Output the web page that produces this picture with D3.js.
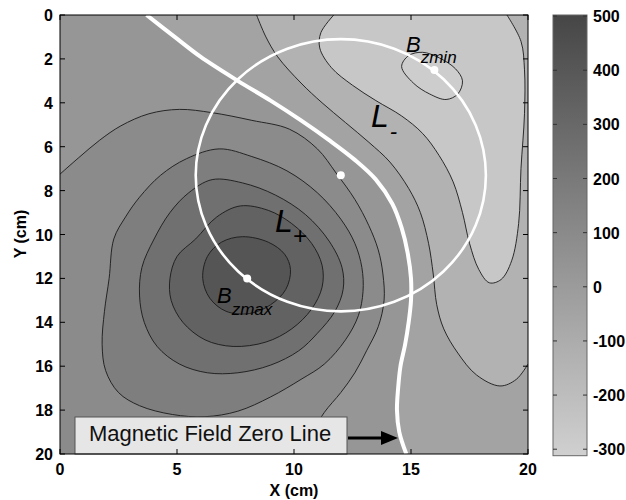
<!DOCTYPE html>
<html>
<head>
<meta charset="utf-8">
<script src="https://cdn.jsdelivr.net/npm/d3@7"></script>
<style>
  body { margin: 0; background: #fff; }
  text { font-family: "Liberation Sans", Arial, sans-serif; }
</style>
</head>
<body>
<div id="chart"></div>
<script>
// ---- data (cm) ----
const xTicks = [0, 5, 10, 15, 20];
const yTicks = [0, 2, 4, 6, 8, 10, 12, 14, 16, 18, 20];
const cbTicks = [-300, -200, -100, 0, 100, 200, 300, 400, 500];
const cbDomain = [-312, 502];

// contour lines, one array per level (x, y in cm)
const zeroLine = [[3.7,0],[4.9,1.0],[6.0,1.9],[7.6,3.0],[9.0,3.9],[10.3,4.8],[11.5,5.7],[12.6,6.6],[13.5,7.5],[14.2,8.6],[14.6,9.7],[14.85,10.8],[15.0,12.0],[15.0,13.0],[14.9,14.0],[14.75,15.0],[14.55,16.0],[14.45,17.0],[14.4,18.0],[14.5,19.0],[14.8,20]];
const c100 = [[0,7.25],[0.8,6.5],[1.7,5.7],[2.6,5.05],[3.8,4.5],[5.1,4.3],[6.5,4.45],[8.2,4.8],[9.8,5.2],[11.0,6.1],[11.8,7.2],[12.6,8.4],[13.2,9.6],[13.6,10.7],[13.8,11.8],[13.85,13.0],[13.6,14.2],[13.1,15.3],[12.6,16.3],[12.0,17.2],[11.3,18.1],[10.8,19.0],[10.5,20]];
const c200 = [[6.8,6.1],[8.2,6.45],[9.7,7.1],[11.0,8.1],[12.0,9.3],[12.6,10.4],[12.9,11.5],[12.95,12.6],[12.75,13.7],[12.2,14.8],[11.3,15.9],[10.3,16.6],[9.0,17.4],[7.6,18.05],[6.2,18.3],[4.8,18.2],[3.4,17.8],[2.5,17.2],[1.95,16.2],[1.8,15.0],[1.9,13.5],[2.1,12.0],[2.3,10.2],[2.8,9.2],[3.4,8.3],[4.3,7.3],[5.4,6.55]];
const c300 = [[6.5,7.5],[7.8,7.65],[9.2,8.2],[10.5,9.1],[11.5,10.3],[12.05,11.5],[12.1,12.5],[11.75,13.5],[11.0,14.5],[10.2,15.3],[9.0,15.95],[7.6,16.3],[6.3,16.3],[5.1,15.9],[4.15,15.1],[3.6,14.0],[3.4,12.8],[3.5,11.5],[4.0,10.25],[4.7,9.0],[5.5,8.1]];
const c400 = [[7.7,8.7],[8.9,8.9],[9.9,9.5],[10.75,10.4],[11.2,11.4],[11.2,12.4],[10.75,13.4],[9.9,14.3],[8.8,14.9],[7.4,15.1],[6.2,14.8],[5.25,14.0],[4.75,13.0],[4.7,12.0],[5.0,11.0],[5.8,10.2],[6.7,9.2]];
const c500 = [[7.8,10.1],[8.9,10.35],[9.6,10.9],[9.85,11.6],[9.65,12.5],[9.0,13.2],[8.1,13.6],[7.1,13.5],[6.4,12.9],[6.1,12.0],[6.3,11.0],[6.9,10.35]];
const cm100 = [[8.4,0],[8.8,1.0],[9.3,1.9],[10.3,3.1],[11.2,4.0],[12.2,4.9],[13.2,5.8],[14.1,6.7],[14.9,7.9],[15.4,9.0],[15.75,10.4],[15.95,11.8],[16.1,13.2],[16.4,14.3],[17.0,15.4],[17.8,16.4],[18.8,16.9],[19.5,16.6],[20,15.9]];
const cm200 = [[11.7,0],[11.15,0.8],[11.1,1.5],[11.6,2.4],[12.5,3.2],[13.5,3.9],[14.6,4.6],[15.5,5.4],[16.2,6.4],[16.8,7.6],[17.2,9.0],[17.5,10.4],[17.9,11.6],[18.35,12.2],[18.85,12.05],[19.3,11.2],[19.6,9.5],[19.7,7.0],[19.85,4.5],[19.85,2.5],[19.7,1.2],[19.1,0]];
const cm300 = [[14.6,2.35],[14.9,1.85],[15.5,1.7],[16.2,1.95],[16.9,2.45],[17.2,3.0],[17.0,3.6],[16.5,3.85],[15.8,3.6],[15.1,3.1]];

// circle L and marked points
const circleCenter = [12, 7.3];
const circleRadius = 6.2;
const markPoints = [[12, 7.3], [8, 12], [16, 2.5]];

// fill grey for each band, lowest band first (< -300 ... > 500)
const bandFill = ["#cdcdcd", "#c7c7c7", "#b2b2b2", "#a3a3a3", "#969696", "#8b8b8b", "#7e7e7e", "#707070", "#626262", "#555555"];

const W = 626, H = 500;
const x = d3.scaleLinear().domain([0, 20]).range([60, 528]);
const y = d3.scaleLinear().domain([0, 20]).range([15, 454]);
const cb = d3.scaleLinear().domain(cbDomain).range([455.7, 15]);

const svg = d3.select("#chart").append("svg")
    .attr("width", W).attr("height", H);

svg.append("clipPath").attr("id", "plotclip")
    .append("rect")
    .attr("x", x(0)).attr("y", y(0))
    .attr("width", x(20) - x(0)).attr("height", y(20) - y(0));

const plot = svg.append("g").attr("clip-path", "url(#plotclip)");

const openLine = d3.line().x(d => x(d[0])).y(d => y(d[1])).curve(d3.curveCatmullRom.alpha(0.5));
const loopLine = d3.line().x(d => x(d[0])).y(d => y(d[1])).curve(d3.curveCatmullRomClosed.alpha(0.5));

function region(pts, corners, closed) {
    if (closed) return loopLine(pts);
    return openLine(pts) + corners.map(c => "L" + x(c[0]) + "," + y(c[1])).join("") + "Z";
}

// base band (-100 .. 0)
plot.append("rect")
    .attr("x", x(0)).attr("y", y(0))
    .attr("width", x(20) - x(0)).attr("height", y(20) - y(0))
    .attr("fill", bandFill[3]);

const regions = [
    { pts: zeroLine, corners: [[0, 20], [0, 0]], band: 4 },
    { pts: c100, corners: [[0, 20]], band: 5 },
    { pts: c200, closed: true, band: 6 },
    { pts: c300, closed: true, band: 7 },
    { pts: c400, closed: true, band: 8 },
    { pts: c500, closed: true, band: 9 },
    { pts: cm100, corners: [[20, 0]], band: 2 },
    { pts: cm200, corners: [], band: 1 },
    { pts: cm300, closed: true, band: 0 }
];

plot.selectAll("path.band")
    .data(regions)
    .join("path")
    .attr("class", "band")
    .attr("d", d => region(d.pts, d.corners, d.closed))
    .attr("fill", d => bandFill[d.band])
    .attr("stroke", "none");

// black contour lines
const blackLines = [c100, c200, c300, c400, c500, cm100, cm200, cm300];
const closedSet = new Set([c200, c300, c400, c500, cm300]);
plot.selectAll("path.cline")
    .data(blackLines)
    .join("path")
    .attr("class", "cline")
    .attr("d", d => closedSet.has(d) ? loopLine(d) : openLine(d))
    .attr("fill", "none")
    .attr("stroke", "#1a1a1a")
    .attr("stroke-width", 0.9);

// zero line (white)
plot.append("path")
    .attr("d", openLine(zeroLine))
    .attr("fill", "none")
    .attr("stroke", "#fff")
    .attr("stroke-width", 4);

// circle
plot.append("ellipse")
    .attr("cx", x(circleCenter[0])).attr("cy", y(circleCenter[1]))
    .attr("rx", x(circleCenter[0] + circleRadius) - x(circleCenter[0]))
    .attr("ry", y(circleCenter[1] + circleRadius) - y(circleCenter[1]))
    .attr("fill", "none")
    .attr("stroke", "#fff")
    .attr("stroke-width", 2.6);

plot.selectAll("circle.mark")
    .data(markPoints)
    .join("circle")
    .attr("class", "mark")
    .attr("cx", d => x(d[0])).attr("cy", d => y(d[1]))
    .attr("r", 4)
    .attr("fill", "#fff");

// annotations
function subLabel(px, py, main, sub, mainSize, subSize, dx, dy) {
    const t = svg.append("text")
        .attr("x", px).attr("y", py)
        .attr("font-style", "italic")
        .attr("fill", "#000");
    t.append("tspan").attr("font-size", mainSize).text(main);
    t.append("tspan").attr("font-size", subSize).attr("dx", dx).attr("dy", dy).text(sub);
}
subLabel(217, 303, "B", "zmax", 22, 17, 0, 12);
subLabel(406, 52, "B", "zmin", 22, 17, 0, 11);
subLabel(275, 232, "L", "+", 32, 24, 0, 12);
subLabel(371, 127, "L", "-", 32, 22, 1, 12);

// label box with arrow
svg.append("rect")
    .attr("x", 75).attr("y", 417)
    .attr("width", 272).attr("height", 37)
    .attr("fill", "#e6e6e6")
    .attr("stroke", "#555")
    .attr("stroke-width", 1);
svg.append("text")
    .attr("x", 89).attr("y", 441)
    .attr("font-size", 22)
    .attr("fill", "#111")
    .text("Magnetic Field Zero Line");
svg.append("line")
    .attr("x1", 348).attr("y1", 438)
    .attr("x2", 384).attr("y2", 438)
    .attr("stroke", "#000").attr("stroke-width", 3);
svg.append("path")
    .attr("d", "M381,431L398,438L381,445Z")
    .attr("fill", "#000");

// frame and ticks
svg.append("rect")
    .attr("x", x(0)).attr("y", y(0))
    .attr("width", x(20) - x(0)).attr("height", y(20) - y(0))
    .attr("fill", "none").attr("stroke", "#000").attr("stroke-width", 1);

const tickG = svg.append("g").attr("stroke", "#000").attr("stroke-width", 1);
yTicks.forEach(v => {
    tickG.append("line").attr("x1", x(0)).attr("x2", x(0) + 5).attr("y1", y(v)).attr("y2", y(v));
    tickG.append("line").attr("x1", x(20)).attr("x2", x(20) - 5).attr("y1", y(v)).attr("y2", y(v));
});
xTicks.forEach(v => {
    tickG.append("line").attr("x1", x(v)).attr("x2", x(v)).attr("y1", y(20)).attr("y2", y(20) - 5);
    tickG.append("line").attr("x1", x(v)).attr("x2", x(v)).attr("y1", y(0)).attr("y2", y(0) + 5);
});

svg.selectAll("text.ylab")
    .data(yTicks)
    .join("text")
    .attr("class", "ylab")
    .attr("x", 53).attr("y", d => y(d) + 6)
    .attr("text-anchor", "end")
    .attr("font-size", 16).attr("font-weight", "bold")
    .text(d => d);

svg.selectAll("text.xlab")
    .data(xTicks)
    .join("text")
    .attr("class", "xlab")
    .attr("x", d => x(d)).attr("y", 475)
    .attr("text-anchor", "middle")
    .attr("font-size", 16).attr("font-weight", "bold")
    .text(d => d);

svg.append("text")
    .attr("x", (x(0) + x(20)) / 2).attr("y", 496)
    .attr("text-anchor", "middle")
    .attr("font-size", 16).attr("font-weight", "bold")
    .text("X (cm)");

svg.append("text")
    .attr("transform", "translate(26,234) rotate(-90)")
    .attr("text-anchor", "middle")
    .attr("font-size", 16).attr("font-weight", "bold")
    .text("Y (cm)");

// colorbar
const grad = svg.append("defs").append("linearGradient")
    .attr("id", "cbgrad").attr("x1", 0).attr("y1", 1).attr("x2", 0).attr("y2", 0);
grad.append("stop").attr("offset", 0).attr("stop-color", "#d0d0d0");
grad.append("stop").attr("offset", 1).attr("stop-color", "#464646");

const cbX0 = 553, cbX1 = 587;
svg.append("rect")
    .attr("x", cbX0).attr("y", cb(cbDomain[1]))
    .attr("width", cbX1 - cbX0).attr("height", cb(cbDomain[0]) - cb(cbDomain[1]))
    .attr("fill", "url(#cbgrad)")
    .attr("stroke", "#666").attr("stroke-width", 1);

const cbTickG = svg.append("g").attr("stroke", "#333").attr("stroke-width", 1);
cbTicks.forEach(v => {
    cbTickG.append("line").attr("x1", cbX0).attr("x2", cbX0 + 4).attr("y1", cb(v)).attr("y2", cb(v));
    cbTickG.append("line").attr("x1", cbX1).attr("x2", cbX1 - 4).attr("y1", cb(v)).attr("y2", cb(v));
});

svg.selectAll("text.cblab")
    .data(cbTicks)
    .join("text")
    .attr("class", "cblab")
    .attr("x", 593).attr("y", d => cb(d) + 6)
    .attr("font-size", 16).attr("font-weight", "bold")
    .text(d => d);
</script>
</body>
</html>
